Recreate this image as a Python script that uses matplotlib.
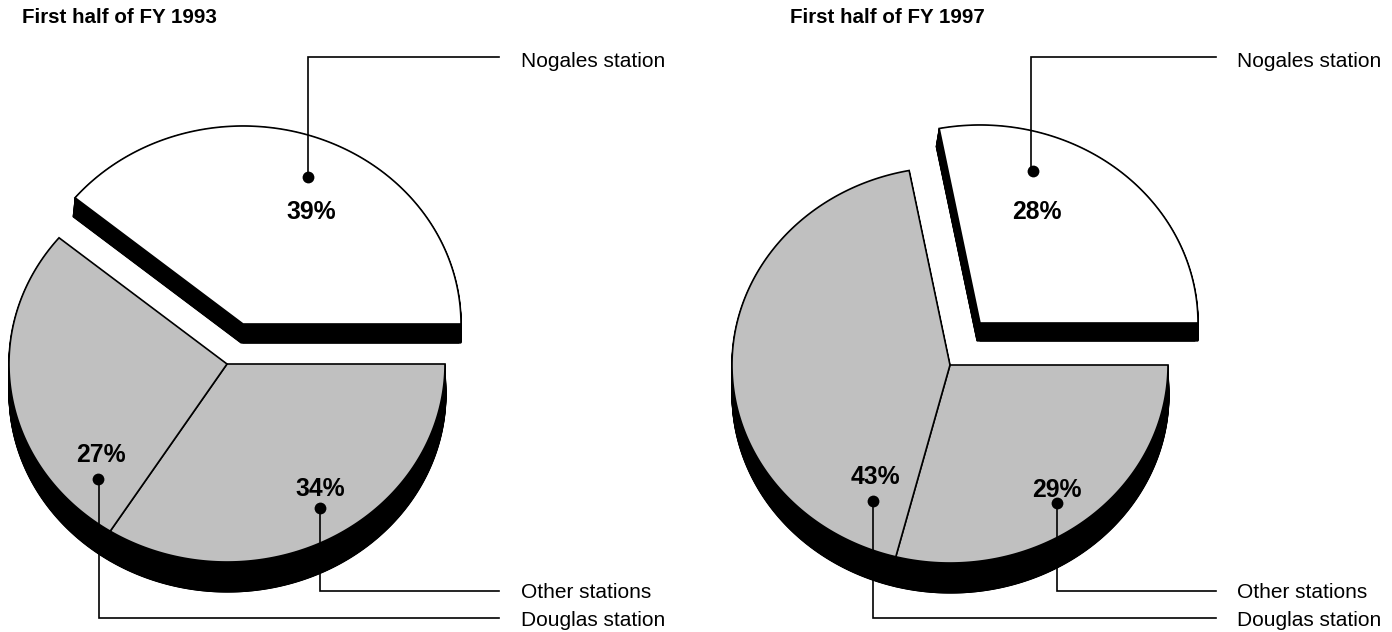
import numpy as np
import matplotlib
matplotlib.use('Agg')
import matplotlib.pyplot as plt

# Shares of each station, in percent
stations = ['Nogales station', 'Douglas station', 'Other stations']
shares_1993 = [39, 27, 34]
shares_1997 = [28, 43, 29]
titles = ['First half of FY 1993', 'First half of FY 1997']

plt.rcParams['font.family'] = ['Liberation Sans', 'DejaVu Sans']

RX = 218
RY = 198
GRAY = '#c0c0c0'


def wedge(cx, cy, a0, a1):
    # elliptical slice, angles in degrees counterclockwise from east
    t = np.radians(np.linspace(a0, a1, 200))
    xs = np.r_[cx, cx + RX * np.cos(t)]
    ys = np.r_[cy, cy - RY * np.sin(t)]
    return xs, ys


def slab(ax, cx, cy, a0, a1, dx, dy, color):
    # black side of the slice, then the top face
    xs, ys = wedge(cx, cy, a0, a1)
    for f in np.linspace(1, 0.02, 50):
        ax.fill(xs + dx * f, ys + dy * f, color='black', lw=0.8, zorder=2)
        ax.fill(xs, ys + dy * f, color='black', lw=0.8, zorder=2)
    ax.fill(xs, ys, facecolor=color, edgecolor='black', lw=1.2, zorder=3, joinstyle='miter')


def leader(ax, px, py, elbow_y, end_x, label, label_x, text_y, dot_x):
    ax.plot([px, px, end_x], [py, elbow_y, elbow_y], color='black', lw=1.2, zorder=4,
            solid_joinstyle='miter')
    ax.plot([dot_x], [py], 'o', color='black', ms=8.5, mew=0, zorder=5)
    ax.text(label_x, text_y, label, fontsize=15, va='baseline', ha='left', color='black')


def pie(ax, shares, white_c, gray_c, title, title_x, pts, pct, end_x, label_x, white_off, gray_off):
    nog, dou, oth = np.array(shares) * 3.6
    slab(ax, white_c[0], white_c[1], 0, nog, white_off[0], white_off[1], 'white')
    slab(ax, gray_c[0], gray_c[1], nog + dou, 360, gray_off[0], gray_off[1], GRAY)
    slab(ax, gray_c[0], gray_c[1], nog, nog + dou, gray_off[0], gray_off[1], GRAY)
    ax.text(title_x, 23, title, fontsize=14.8, fontweight='bold', va='baseline', ha='left')
    for i, name in enumerate(stations):
        px, py, ey, ty, dot_x = pts[i]
        leader(ax, px, py, ey, end_x, name, label_x, ty, dot_x)
        ax.text(pct[i][0], pct[i][1], f'{shares[i]}%', fontsize=17.8, fontweight='bold',
                va='center', ha='center', zorder=6)


fig = plt.figure(figsize=(13.92, 6.32), dpi=100)
ax = fig.add_axes([0, 0, 1, 1])
ax.set_xlim(0, 1392)
ax.set_ylim(632, 0)
ax.axis('off')

pie(ax, shares_1993, (243, 324), (227, 364), titles[0], 22,
    [(308, 177, 57, 67, 308), (99, 479, 618, 626, 98), (320, 508, 591, 598, 320)],
    [(311, 212), (101, 455), (320, 489)],
    499, 521, (-2, 19), (1, 30))
pie(ax, shares_1997, (980, 323), (950, 365), titles[1], 790,
    [(1031, 171, 57, 67, 1033), (873, 501, 618, 626, 873), (1057, 503, 591, 598, 1057)],
    [(1037, 212), (875, 477), (1057, 490)],
    1216, 1237, (-3, 18), (1, 30))

fig.savefig('out.png', dpi=100)
